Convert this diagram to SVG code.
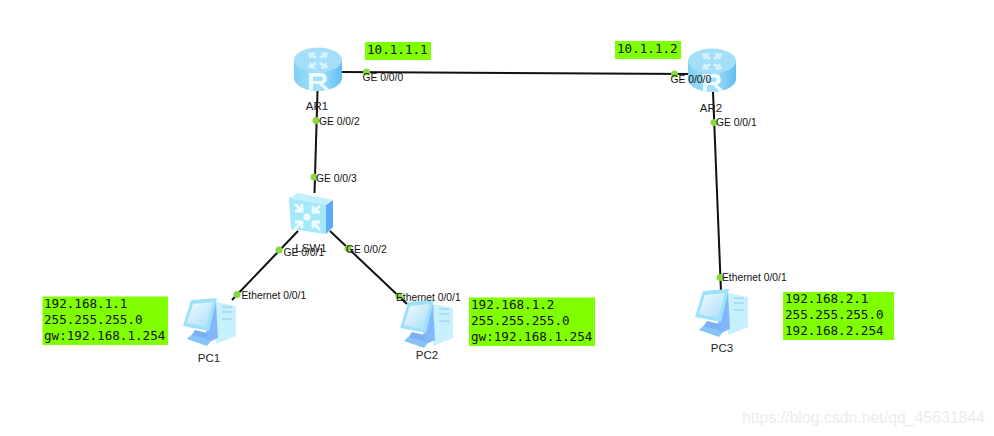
<svg xmlns="http://www.w3.org/2000/svg" width="994" height="436" viewBox="0 0 994 436">
<style>
.link{stroke:#111;stroke-width:2;fill:none}
.dot{fill:#88d840}
.lbl{font:10.300px "Liberation Sans",Arial,sans-serif;fill:#111}
.name{font:11.500px "Liberation Sans",Arial,sans-serif;fill:#222}
.note{fill:#80ff00}
.mono{font:12.600px "DejaVu Sans Mono","Liberation Mono",monospace;fill:#111}
.wm{font:16px "Liberation Sans",Arial,sans-serif;fill:#ececec}
</style>
<defs>
<linearGradient id="rb" x1="0" x2="1" y1="0" y2="0"><stop offset="0" stop-color="#7fd0f5"/><stop offset=".5" stop-color="#a6e3fb"/><stop offset="1" stop-color="#62bdf0"/></linearGradient>
<linearGradient id="scr" x1="0" x2="1" y1="0" y2="1"><stop offset="0" stop-color="#f2fcff"/><stop offset="1" stop-color="#a9dcf7"/></linearGradient>
<symbol id="router" width="48" height="43" viewBox="0 0 48 43" overflow="visible">
<path d="M0 12V30C0 37 11 43 24 43S48 37 48 30V12Z" fill="url(#rb)"/>
<ellipse cx="24" cy="12" rx="24" ry="12.500" fill="#a4def8"/>
<g fill="#d6f3fe"><path d="M14 5l8-1-2 3 3 2-2 2-3-2-2 2zM34 5l-7-1 1 3-3 2 2 2 3-2 2 2zM14 20l8 1-2-3 3-2-2-2-3 2-2-2zM34 20l-7 1 1-3-3-2 2-2 3 2 2-2z"/></g>
<path d="M15 42V25h12a5.500 5.500 0 0 1 2 10.700L36 42h-5l-6-6H19v6ZM19 28.500v4.500h7.500a2.250 2.250 0 0 0 0-4.500Z" fill="#eefbff"/>
</symbol>
<symbol id="switch" width="44" height="42" viewBox="0 0 44 42" overflow="visible">
<path d="M37 12L44 7V34L37 41Z" fill="#5fa8fb"/>
<path d="M0 5L9 0L44 7L37 12Z" fill="#c3f0fd"/>
<path d="M0 5L37 12V41L2 36Z" fill="#a3e8fb"/>
<circle cx="18" cy="24" r="3.500" fill="#f2fdff"/>
<g stroke="#f2fdff" stroke-width="2.800" fill="none"><path d="M6 11l7 7M6 18h7v-7M31 13l-7 6M24 13v6h7M6 36l7-7M6 29h7v6M31 37l-7-8M24 35v-6h7"/></g>
</symbol>
<symbol id="pc" width="53" height="48" viewBox="0 0 53 48" overflow="visible">
<path d="M33 4L53 8V38L33 46Z" fill="#c9f0fd"/>
<path d="M26 10L33 4L35 40L22 46Z" fill="#80b8fb"/>
<path d="M8 2L34 0L26 33L0 28Z" fill="#9fe0fb"/>
<path d="M10 6L30 4L23 29L4 25Z" fill="url(#scr)"/>
<path d="M12 32L25 35L26 42L8 38Z" fill="#7cb2f5"/>
<path d="M4 41L8 37L28 43L24 48Z" fill="#86c4f8"/>
<path d="M39 9h10M39 14h10M39 21h10" stroke="#8fc8ee" stroke-width="1"/>
</symbol>
</defs>
<g id="connectors">
<line class="link" x1="342" y1="72" x2="690" y2="74"/>
<line class="link" x1="317.500" y1="91" x2="314.500" y2="193"/>
<line class="link" x1="298" y1="231" x2="232" y2="300"/>
<line class="link" x1="330" y1="231" x2="407" y2="304"/>
<line class="link" x1="713" y1="92" x2="721" y2="292"/>
</g>
<g id="AR1"><use href="#router" x="294" y="48"/><text class="name" x="317" y="110" text-anchor="middle">AR1</text></g>
<g id="AR2"><use href="#router" x="688" y="49"/><text class="name" x="711" y="112" text-anchor="middle">AR2</text></g>
<g id="LSW1"><use href="#switch" x="289" y="193"/><text class="name" x="311" y="252" text-anchor="middle">LSW1</text></g>
<g id="PC1"><use href="#pc" x="183" y="298"/><text class="name" x="209" y="362" text-anchor="middle">PC1</text></g>
<g id="PC2"><use href="#pc" x="400" y="300"/><text class="name" x="427" y="359" text-anchor="middle">PC2</text></g>
<g id="PC3"><use href="#pc" x="695" y="289"/><text class="name" x="722" y="352" text-anchor="middle">PC3</text></g>
<g id="ports">
<circle class="dot" cx="366.500" cy="72" r="3.500"/><text class="lbl" x="362.500" y="81">GE 0/0/0</text>
<circle class="dot" cx="316" cy="120.500" r="3.500"/><text class="lbl" x="319" y="125">GE 0/0/2</text>
<circle class="dot" cx="314" cy="177" r="3.500"/><text class="lbl" x="316" y="182">GE 0/0/3</text>
<circle class="dot" cx="279" cy="250" r="3.500"/><text class="lbl" x="283.500" y="256">GE 0/0/1</text>
<circle class="dot" cx="348" cy="248.500" r="3.500"/><text class="lbl" x="346" y="253">GE 0/0/2</text>
<circle class="dot" cx="237" cy="294.500" r="3.500"/><text class="lbl" x="241.500" y="299">Ethernet 0/0/1</text>
<circle class="dot" cx="399" cy="296" r="3.500"/><text class="lbl" x="396" y="301">Ethernet 0/0/1</text>
<circle class="dot" cx="674.500" cy="74" r="3.500"/><text class="lbl" x="670.500" y="83">GE 0/0/0</text>
<circle class="dot" cx="714" cy="122.500" r="3.500"/><text class="lbl" x="716" y="126">GE 0/0/1</text>
<circle class="dot" cx="720" cy="277.500" r="3.500"/><text class="lbl" x="722" y="281">Ethernet 0/0/1</text>
</g>
<g id="note-ar1"><rect class="note" x="365" y="42" width="66" height="18"/><text class="mono" x="367" y="54">10.1.1.1</text></g>
<g id="note-ar2"><rect class="note" x="615" y="41" width="66" height="18"/><text class="mono" x="617" y="53">10.1.1.2</text></g>
<g id="note-pc1"><rect class="note" x="42.500" y="296.500" width="125.500" height="48.500"/>
<text class="mono" x="44" y="308">192.168.1.1</text><text class="mono" x="44" y="324">255.255.255.0</text><text class="mono" x="44" y="340">gw:192.168.1.254</text></g>
<g id="note-pc2"><rect class="note" x="469" y="297.500" width="126" height="48.500"/>
<text class="mono" x="471" y="309">192.168.1.2</text><text class="mono" x="471" y="325">255.255.255.0</text><text class="mono" x="471" y="341">gw:192.168.1.254</text></g>
<g id="note-pc3"><rect class="note" x="783" y="292" width="111" height="48"/>
<text class="mono" x="785" y="303">192.168.2.1</text><text class="mono" x="785" y="319">255.255.255.0</text><text class="mono" x="785" y="335">192.168.2.254</text></g>
<text class="wm" x="742" y="423" textLength="243" lengthAdjust="spacingAndGlyphs">https://blog.csdn.net/qq_45631844</text>
</svg>
